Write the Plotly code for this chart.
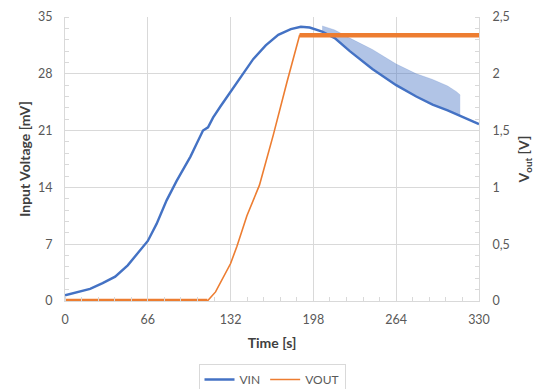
import plotly.graph_objects as go

# ---- data ----
vin_t = [0, 10, 20, 30, 40, 50, 60, 66, 73, 81, 89, 100, 105, 110, 114, 118, 124, 132, 140, 150,
         160, 170, 180, 188, 195, 205, 215, 227, 245, 264, 280, 293, 305, 315, 322, 330]
vin_mv = [0.7, 1.1, 1.5, 2.2, 3.0, 4.4, 6.2, 7.4, 9.5, 12.4, 14.8, 17.8, 19.4, 21.0, 21.4, 22.6, 24.0,
          25.8, 27.6, 29.8, 31.5, 32.8, 33.5, 33.8, 33.7, 33.2, 32.4, 30.8, 28.6, 26.6,
          25.2, 24.2, 23.5, 22.8, 22.4, 21.8]

# noisy spikes band of VIN (lower = trend, upper = spike tops)
spike_t = [205, 215, 227, 245, 264, 280, 293, 305, 312, 315]
spike_low = [33.2, 32.4, 30.8, 28.6, 26.6, 25.2, 24.2, 23.5, 23.0, 22.8]
spike_high = [33.9, 33.4, 32.4, 31.0, 29.2, 28.0, 27.3, 26.5, 25.8, 25.4]

vout_t = [0, 113.5, 120, 126, 132, 137, 145, 155, 166, 177, 187, 200, 250, 300, 330]
vout_v = [0, 0, 0.08, 0.2, 0.33, 0.48, 0.75, 1.02, 1.46, 1.93, 2.34, 2.34, 2.34, 2.34, 2.34]

x_ticks = [0, 66, 132, 198, 264, 330]
y_ticks = [0, 7, 14, 21, 28, 35]
y2_ticks = [0, 0.5, 1, 1.5, 2, 2.5]
y2_labels = ["0", "0,5", "1", "1,5", "2", "2,5"]

BLUE = "#4472C4"
ORANGE = "#ED7D31"
GRID = "#D9D9D9"
TXT = "#595959"
TITLE = "#404040"
FONT = "Lato"

fig = go.Figure()

# spike band
fig.add_trace(go.Scatter(x=spike_t, y=spike_low, mode="lines", line=dict(width=0, color=BLUE),
                         showlegend=False, hoverinfo="skip"))
fig.add_trace(go.Scatter(x=spike_t, y=spike_high, mode="lines", line=dict(width=0.5, color="rgba(68,114,196,0.4)"),
                         fill="tonexty", fillcolor="rgba(68,114,196,0.42)",
                         showlegend=False, hoverinfo="skip"))
# VIN
fig.add_trace(go.Scatter(x=vin_t, y=vin_mv, mode="lines", name="VIN",
                         line=dict(color=BLUE, width=2.4), yaxis="y"))

# VOUT thick flat segments (dense noisy data)
flat_lo = [(t, v) for t, v in zip(vout_t, vout_v) if v == 0]
flat_hi = [(t, v) for t, v in zip(vout_t, vout_v) if v == max(vout_v)]
for seg in (flat_lo, flat_hi):
    fig.add_trace(go.Scatter(x=[p[0] for p in seg], y=[p[1] for p in seg], mode="lines",
                             line=dict(color=ORANGE, width=4.5), yaxis="y2",
                             showlegend=False, hoverinfo="skip"))
fig.add_trace(go.Scatter(x=vout_t, y=vout_v, mode="lines", name="VOUT",
                         line=dict(color=ORANGE, width=1.6), yaxis="y2"))

fig.update_layout(
    width=534, height=389,
    margin=dict(l=64.5, r=54.5, t=17, b=88, autoexpand=False),
    paper_bgcolor="white", plot_bgcolor="white",
    font=dict(family=FONT, size=12.5, color=TXT),
    showlegend=True,
    legend=dict(orientation="h", x=0.5, xanchor="center", y=-0.222, yanchor="top",
                bordercolor=GRID, borderwidth=1, font=dict(size=12, color=TXT),
                itemwidth=30, traceorder="normal"),
    xaxis=dict(range=[0, 330], tickvals=x_ticks, showgrid=True, gridcolor=GRID, gridwidth=1,
               showline=True, linecolor=GRID, linewidth=1, zeroline=False,
               ticks="", ticklabelstandoff=7,
               minor=dict(ticks="inside", ticklen=4, dtick=13.2, tickcolor=GRID, showgrid=False),
               title=dict(text="<b>Time [s]</b>", font=dict(size=14, color=TITLE), standoff=12)),
    yaxis=dict(range=[0, 35], tickvals=y_ticks, showgrid=True, gridcolor=GRID, gridwidth=1,
               showline=True, linecolor=GRID, linewidth=1, zeroline=False,
               ticks="", ticklabelstandoff=9,
               minor=dict(ticks="inside", ticklen=4, dtick=1.4, tickcolor=GRID, showgrid=False),
               title=dict(text="<b>Input Voltage [mV]</b>", font=dict(size=14, color=TITLE), standoff=4)),
    yaxis2=dict(range=[0, 2.5], tickvals=y2_ticks, ticktext=y2_labels, overlaying="y", side="right",
                showgrid=False, showline=True, linecolor=GRID, linewidth=1, zeroline=False,
                ticks="", ticklabelstandoff=10,
                minor=dict(ticks="inside", ticklen=4, dtick=0.1, tickcolor=GRID),
                title=dict(text="<b>V<sub>out</sub> [V]</b>", font=dict(size=14, color=TITLE), standoff=12)),
)

fig.write_html("out.html")
